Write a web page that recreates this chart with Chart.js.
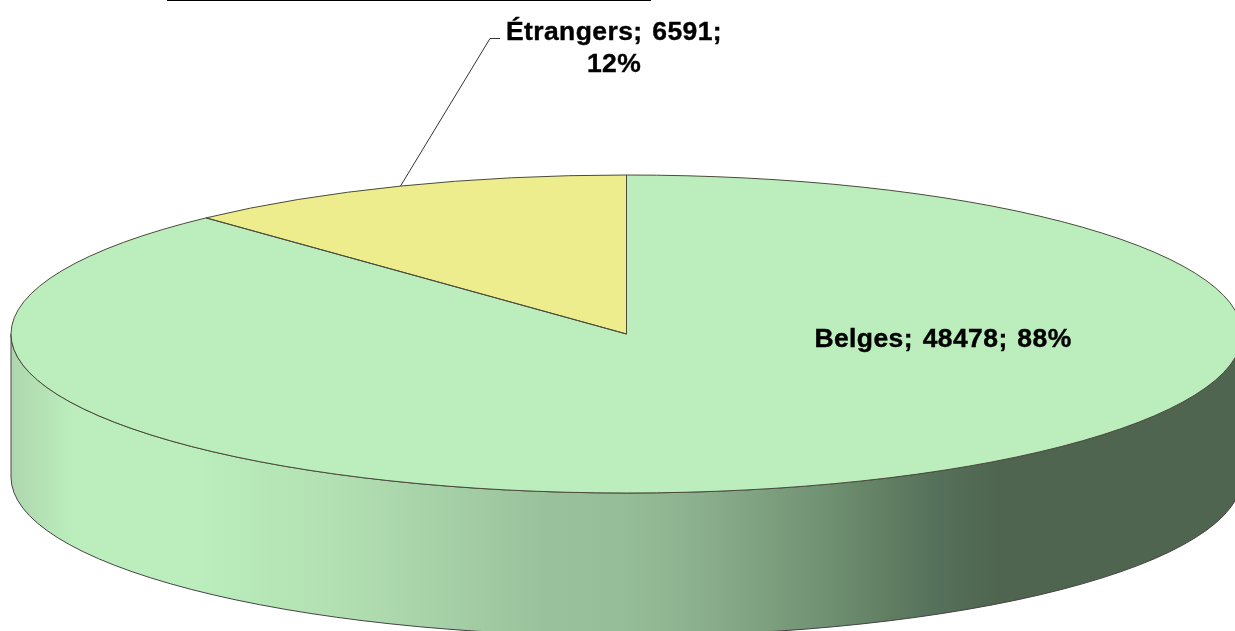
<!DOCTYPE html>
<html>
<head>
<meta charset="utf-8">
<script src="https://cdn.jsdelivr.net/npm/chart.js@4"></script>
<style>
    html, body { margin: 0; background: #fff; }
    canvas { display: block; }
</style>
</head>
<body>
<canvas id="pie" width="1235" height="631"></canvas>
<script>
const categories = ['Belges', 'Étrangers'];
const values = [48478, 6591];
const sliceColors = ['#bbeebc', '#eded8e'];

// squash factor of the tilted pie and height of its side wall
const TILT = 159 / 615.5;
const DEPTH = 143;

const total = values.reduce((a, b) => a + b, 0);
const labelText = i => `${categories[i]}; ${values[i]}; ${Math.round(values[i] / total * 100)}%`;

const tiltPlugin = {
    id: 'tilt',
    beforeDatasetsDraw(chart) {
        const arc = chart.getDatasetMeta(0).data[0];
        const ctx = chart.ctx;
        const rx = arc.outerRadius, ry = rx * TILT;

        // side wall, lit from the left
        const grad = ctx.createLinearGradient(arc.x - rx, 0, arc.x + rx, 0);
        grad.addColorStop(0, '#aed6ae');
        grad.addColorStop(0.05, '#bbeebc');
        grad.addColorStop(0.15, '#bbeebc');
        grad.addColorStop(0.27, '#b2dfb2');
        grad.addColorStop(0.43, '#9ac29c');
        grad.addColorStop(0.5, '#95bd97');
        grad.addColorStop(0.566, '#8aae8c');
        grad.addColorStop(0.665, '#6f9071');
        grad.addColorStop(0.715, '#607d62');
        grad.addColorStop(0.755, '#55705a');
        grad.addColorStop(0.8, '#4f654f');
        grad.addColorStop(1, '#4f654f');
        ctx.save();
        ctx.beginPath();
        ctx.ellipse(arc.x, arc.y + DEPTH, rx, ry, 0, 0, Math.PI);
        ctx.lineTo(arc.x - rx, arc.y);
        ctx.ellipse(arc.x, arc.y, rx, ry, 0, Math.PI, 0, true);
        ctx.closePath();
        ctx.fillStyle = grad;
        ctx.fill();
        ctx.strokeStyle = '#444';
        ctx.lineWidth = 1;
        ctx.stroke();
        ctx.restore();
    },
    beforeDatasetDraw(chart) {
        const arc = chart.getDatasetMeta(0).data[0];
        const ctx = chart.ctx;
        ctx.save();
        ctx.translate(arc.x, arc.y);
        ctx.scale(1, TILT);
        ctx.translate(-arc.x, -arc.y);
    },
    afterDatasetDraw(chart) {
        chart.ctx.restore();
    },
    afterDatasetsDraw(chart) {
        const ctx = chart.ctx;
        ctx.save();
        ctx.strokeStyle = '#4a4a3a';
        ctx.lineWidth = 1;
        chart.getDatasetMeta(0).data.forEach(arc => {
            ctx.beginPath();
            ctx.moveTo(arc.x, arc.y);
            ctx.ellipse(arc.x, arc.y, arc.outerRadius, arc.outerRadius * TILT, 0, arc.startAngle, arc.endAngle);
            ctx.closePath();
            ctx.stroke();
        });

        // leader line of the small slice
        const small = chart.getDatasetMeta(0).data[1];
        const mid = (small.startAngle + small.endAngle) / 2;
        ctx.strokeStyle = '#333';
        ctx.beginPath();
        ctx.moveTo(small.x + Math.cos(mid) * small.outerRadius, small.y + Math.sin(mid) * small.outerRadius * TILT);
        ctx.lineTo(490, 38.5);
        ctx.lineTo(500, 38.5);
        ctx.stroke();

        // rule cut off at the top of the picture
        ctx.strokeStyle = '#000';
        ctx.beginPath();
        ctx.moveTo(167, 0.5);
        ctx.lineTo(651, 0.5);
        ctx.stroke();

        ctx.fillStyle = '#000';
        ctx.strokeStyle = '#000';
        ctx.lineWidth = 0.4;
        ctx.font = 'bold 26.5px "Liberation Sans"';
        ctx.letterSpacing = '0.4px';
        ctx.wordSpacing = '2px';
        ctx.textBaseline = 'alphabetic';
        ctx.textAlign = 'center';
        const put = (text, x, y) => {
            ctx.fillText(text, x, y);
            ctx.strokeText(text, x, y);
        };
        put(labelText(0), 943, 347);
        const parts = labelText(1).split('; ');
        put(`${parts[0]}; ${parts[1]};`, 614, 40);
        put(parts[2], 614, 72);
        ctx.restore();
    }
};

new Chart(document.getElementById('pie'), {
    type: 'pie',
    data: {
        labels: categories,
        datasets: [{
            data: values,
            backgroundColor: sliceColors,
            borderWidth: 0,
            clip: false
        }]
    },
    options: {
        responsive: false,
        animation: false,
        radius: 615.5,
        layout: { padding: { left: 18, top: 37 } },
        plugins: {
            legend: { display: false },
            tooltip: { enabled: false }
        }
    },
    plugins: [tiltPlugin]
});
</script>
</body>
</html>
